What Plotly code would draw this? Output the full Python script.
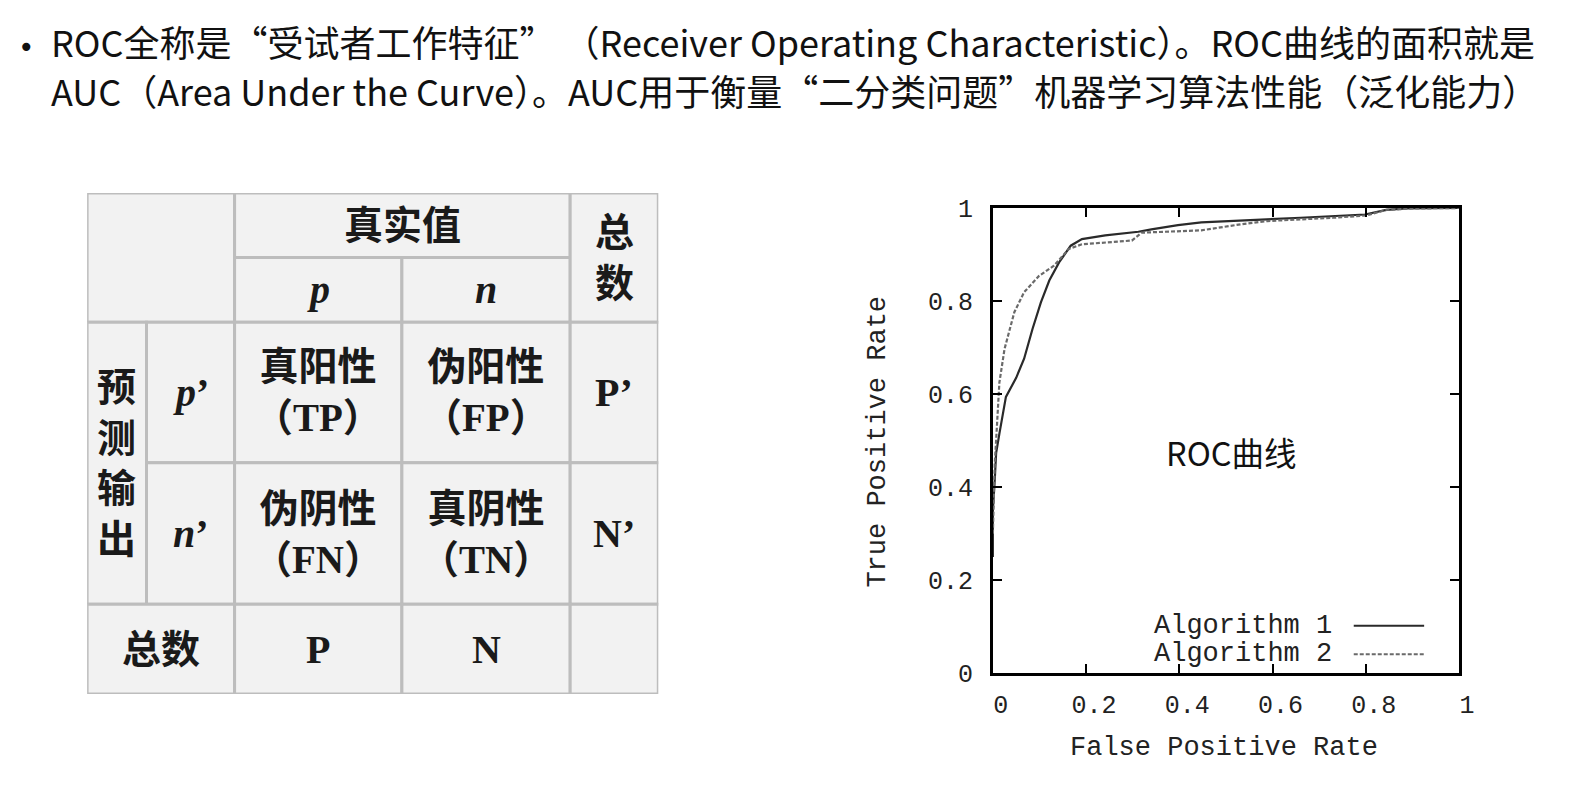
import plotly.graph_objects as go

W, H = 1584, 787

# ---------------- data ----------------
title_lines = [
    "ROC全称是“受试者工作特征” （Receiver Operating Characteristic）。ROC曲线的面积就是",
    "AUC（Area Under the Curve）。AUC用于衡量“二分类问题”机器学习算法性能（泛化能力）",
]

series_names = ["Algorithm 1", "Algorithm 2"]
fpr1 = [0.0, 0.0, 0.004, 0.007, 0.014, 0.028, 0.050, 0.067, 0.085, 0.103, 0.121, 0.142,
        0.167, 0.191, 0.241, 0.312, 0.340, 0.397, 0.447, 0.518, 0.660, 0.798, 0.844, 0.887, 1.0]
tpr1 = [0.25, 0.35, 0.415, 0.473, 0.515, 0.594, 0.635, 0.676, 0.740, 0.797, 0.844, 0.883,
        0.919, 0.933, 0.941, 0.949, 0.954, 0.963, 0.969, 0.972, 0.979, 0.986, 0.996, 0.999, 1.0]
fpr2 = [0.0, 0.002, 0.004, 0.007, 0.011, 0.014, 0.025, 0.046, 0.067, 0.099, 0.131, 0.163,
        0.191, 0.298, 0.319, 0.447, 0.532, 0.589, 0.730, 0.801, 0.844, 0.901, 1.0]
tpr2 = [0.30, 0.40, 0.45, 0.501, 0.580, 0.625, 0.697, 0.776, 0.819, 0.854, 0.876, 0.912,
        0.922, 0.930, 0.947, 0.952, 0.965, 0.972, 0.979, 0.984, 0.996, 0.999, 1.0]
tick_vals = [0, 0.2, 0.4, 0.6, 0.8, 1]
tick_text = ["0", "0.2", "0.4", "0.6", "0.8", "1"]
x_title = "False Positive Rate"
y_title = "True Positive Rate"
chart_label = "ROC曲线"

# confusion-matrix table: grid edges (table units) and cells (col0, col1, row0, row1, text, style)
col_edges = [0, 60, 149, 318, 488, 577]
row_edges = [0, 67, 134, 280, 427, 520]
cells = [
    (0, 2, 0, 2, "", "cjk"),
    (2, 4, 0, 1, "真实值", "cjk"),
    (2, 3, 1, 2, "<i>p</i>", "lat"),
    (3, 4, 1, 2, "<i>n</i>", "lat"),
    (4, 5, 0, 2, "总<br>数", "cjk"),
    (0, 1, 2, 4, "预<br>测<br>输<br>出", "cjk"),
    (1, 2, 2, 3, "<i>p</i>’", "lat"),
    (1, 2, 3, 4, "<i>n</i>’", "lat"),
    (2, 3, 2, 3, "真阳性<br>（TP）", "cjk"),
    (3, 4, 2, 3, "伪阳性<br>（FP）", "cjk"),
    (4, 5, 2, 3, "P’", "lat"),
    (2, 3, 3, 4, "伪阴性<br>（FN）", "cjk"),
    (3, 4, 3, 4, "真阴性<br>（TN）", "cjk"),
    (4, 5, 3, 4, "N’", "lat"),
    (0, 2, 4, 5, "总数", "cjk"),
    (2, 3, 4, 5, "P", "lat"),
    (3, 4, 4, 5, "N", "lat"),
    (4, 5, 4, 5, "", "cjk"),
]

# ---------------- layout constants (pixels) ----------------
plot_l, plot_r, plot_t, plot_b = 1003, 1474, 203.5, 686.5
tab_l, tab_t = 88, 188
tab_r, tab_b = tab_l + col_edges[-1], tab_t + row_edges[-1]
mono = "Liberation Mono, Courier New, monospace"
cjk = "Noto Sans CJK SC, Noto Sans, sans-serif"
serif_cjk = "Liberation Serif, Noto Sans CJK SC, serif"

fig = go.Figure()

styles = [dict(color="#2a2a2a", width=2.2, dash="solid"),
          dict(color="#6a6a6a", width=2.2, dash="4px,2px")]
for name, xs, ys, st in zip(series_names, [fpr1, fpr2], [tpr1, tpr2], styles):
    fig.add_trace(go.Scatter(x=xs, y=ys, mode="lines", name=name, line=st,
                             showlegend=False, xaxis="x", yaxis="y"))

shapes = []
annotations = []

# table cells
for c0, c1, r0, r1, txt, kind in cells:
    x0, x1 = col_edges[c0], col_edges[c1]
    y0, y1 = row_edges[r0], row_edges[r1]
    shapes.append(dict(type="rect", xref="x2", yref="y2", x0=x0, x1=x1, y0=y0, y1=y1,
                       fillcolor="#f2f2f2", line=dict(color="#bdbdbd", width=3), layer="below"))
    if txt:
        size = 39 if kind == "cjk" else 40
        f = dict(family=serif_cjk, size=size, color="#1a1a1a", weight="bold")
        annotations.append(dict(xref="x2", yref="y2", x=(x0 + x1) / 2, y=(y0 + y1) / 2,
                                text="<b>" + txt + "</b>", showarrow=False, font=f,
                                xanchor="center", yanchor="middle"))

# title text
annotations.append(dict(xref="paper", yref="paper", x=27 / W, y=1 - 37 / H, text="•",
                        showarrow=False, font=dict(family="DejaVu Sans", size=28, color="#111"),
                        xanchor="center", yanchor="middle"))
for i, (line, yy) in enumerate(zip(title_lines, [30.5, 81.5])):
    annotations.append(dict(xref="paper", yref="paper", x=49 / W, y=1 - yy / H,
                            text=line, showarrow=False,
                            font=dict(family=cjk, size=36, color="#111"),
                            xanchor="left", yanchor="middle"))

# axis titles
annotations.append(dict(xref="paper", yref="paper", x=1236 / W, y=1 - 764 / H, text=x_title,
                        showarrow=False, font=dict(family=mono, size=27, color="#222"),
                        xanchor="center", yanchor="middle"))
annotations.append(dict(xref="paper", yref="paper", x=887 / W, y=1 - 446 / H, text=y_title,
                        showarrow=False, textangle=-90,
                        font=dict(family=mono, size=27, color="#222"),
                        xanchor="center", yanchor="middle"))

# in-plot label
annotations.append(dict(xref="x", yref="y", x=0.512, y=0.477, text=chart_label,
                        showarrow=False, font=dict(family=cjk, size=32.5, color="#111"),
                        xanchor="center", yanchor="middle"))

# gnuplot-style legend (text left, sample right)
leg_rows = [0.102, 0.041]
for name, st, yy in zip(series_names, styles, leg_rows):
    annotations.append(dict(xref="x", yref="y", x=0.731, y=yy, text=name, showarrow=False,
                            font=dict(family=mono, size=27, color="#222"),
                            xanchor="right", yanchor="middle"))
    shapes.append(dict(type="line", xref="x", yref="y", x0=0.774, x1=0.925, y0=yy, y1=yy,
                       line=dict(color=st["color"], width=2, dash=st["dash"])))

axis_common = dict(range=[0, 1], tickvals=tick_vals, ticktext=tick_text,
                   showline=True, linecolor="black", linewidth=2.5, mirror="ticks",
                   ticks="inside", ticklen=9, tickwidth=2, tickcolor="black",
                   showgrid=False, zeroline=False, fixedrange=True,
                   tickfont=dict(family=mono, size=25, color="#222"))

fig.update_layout(
    width=W, height=H, autosize=False,
    margin=dict(l=0, r=0, t=0, b=0),
    paper_bgcolor="white", plot_bgcolor="white",
    xaxis=dict(domain=[plot_l / W, plot_r / W], anchor="y", ticklabelstandoff=7,
               ticklabelshift=8, **axis_common),
    yaxis=dict(domain=[1 - plot_b / H, 1 - plot_t / H], anchor="x", ticklabelstandoff=12,
               **axis_common),
    xaxis2=dict(domain=[tab_l / W, tab_r / W], range=[0, col_edges[-1]], visible=False,
                anchor="y2", fixedrange=True),
    yaxis2=dict(domain=[1 - tab_b / H, 1 - tab_t / H], range=[row_edges[-1], 0],
                visible=False, anchor="x2", fixedrange=True),
    shapes=shapes,
    annotations=annotations,
    showlegend=False,
)

fig.write_html("out.html")
